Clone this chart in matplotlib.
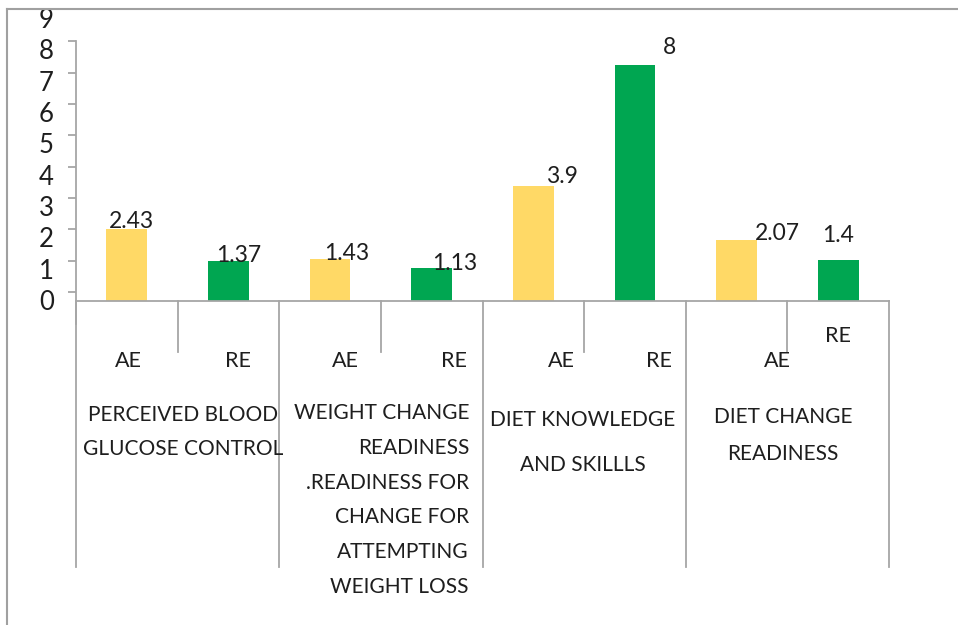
import numpy as np
import matplotlib
matplotlib.use("Agg")
from matplotlib import pyplot as plt
from matplotlib.lines import Line2D

plt.rcParams['font.family'] = ['Lato', 'DejaVu Sans']

# data
groups = [["PERCEIVED BLOOD", "GLUCOSE CONTROL"],
          ["WEIGHT CHANGE", "READINESS", ".READINESS FOR", "CHANGE FOR",
           "ATTEMPTING", "WEIGHT LOSS"],
          ["DIET KNOWLEDGE", "AND SKILLLS"],
          ["DIET CHANGE", "READINESS"]]
series = ["AE", "RE"]
ae_values = [2.43, 1.43, 3.9, 2.07]
re_values = [1.37, 1.13, 8, 1.4]
y_labels = [0, 1, 2, 3, 4, 5, 6, 7, 8, 9]

W, H = 958, 625
YELLOW = '#FFD966'
GREEN = '#00A651'
GREY = '#A6A6A6'
TXT = '#1E1E1E'
FS = 15

def fx(x):
    return x / W

def fy(y):
    return 1 - y / H

fig = plt.figure(figsize=(W / 100, H / 100), dpi=100)
fig.patch.set_facecolor('white')

# plot area: baseline at y=301 px, 29.55 px per unit
base, ppu = 301, 29.55
left, right = 76, 889
ax = fig.add_axes([fx(left), fy(base), fx(right) - fx(left), 9 * ppu / H])
ax.set_xlim(-0.5, 7.5)
ax.set_ylim(0, 9)
ax.patch.set_alpha(0)
for s in ['top', 'right', 'left']:
    ax.spines[s].set_visible(False)
ax.spines['bottom'].set_color(GREY)
ax.spines['bottom'].set_linewidth(1.3)
ax.set_xticks([])
ax.set_yticks([])

# interleave AE / RE
vals, cols, names = [], [], []
for a, r in zip(ae_values, re_values):
    vals += [a, r]
    cols += [YELLOW, GREEN]
    names += series
xpos = np.arange(len(vals))
bars = ax.bar(xpos, vals, width=0.4, color=cols, zorder=2)

slot = (right - left) / 8.0  # px per category slot

# data labels (pixel nudges to sit like the original)
lab_dx = [5, 10, 17, 23, 29, 35, 41, 0]
lab_dy = [1, -1, -1, -2, 3, 11, 0, 18]
for b, v, dx, dy in zip(bars, vals, lab_dx, lab_dy):
    txt = ('%g' % v)
    ax.annotate(txt, (b.get_x() + b.get_width() / 2, v),
                xytext=(dx * 0.72, dy * 0.72), textcoords='offset points',
                ha='center', va='baseline', fontsize=FS + 1.5, color=TXT,
                annotation_clip=False)

# category axis separators
tr = ax.get_xaxis_transform()
depth_outer = (567 - base) / (9 * ppu)
depth_inner = (352 - base) / (9 * ppu)
for i in range(len(vals) + 1):
    d = depth_outer if i % 2 == 0 else depth_inner
    ax.plot([i - 0.5, i - 0.5], [0, -d], transform=tr, color=GREY,
            lw=1.3, clip_on=False, zorder=1)

# AE / RE labels
sub_dx = [2, 10, 15, 22, 28, 24, 41, 0]
sub_y = [361, 361, 361, 361, 361, 361, 361, 336]
for i, (n, dx, yy) in enumerate(zip(names, sub_dx, sub_y)):
    ax.text(i + dx / slot, -(yy - base) / (9 * ppu), n, transform=tr,
            ha='center', va='center', fontsize=FS + 0.5, color=TXT)

# group labels
grp_x = [183.5, 469, 583, 783]
grp_ha = ['center', 'right', 'center', 'center']
grp_y0 = [415, 413, 420, 417]
grp_step = [34, 34.8, 45, 37]
for lines, gx, ha, y0, st in zip(groups, grp_x, grp_ha, grp_y0, grp_step):
    for k, line in enumerate(lines):
        fig.text(fx(gx), fy(y0 + k * st), line, ha=ha, va='center',
                 fontsize=FS, color=TXT)

# value axis, drawn on its own: labels at 0 -> y=300 px, 31.35 px per unit
yppu = 31.35
yax = fig.add_axes([fx(left), fy(300), 0.001, 9 * yppu / H])
yax.patch.set_alpha(0)
for s in ['top', 'right', 'bottom']:
    yax.spines[s].set_visible(False)
yax.spines['left'].set_color(GREY)
yax.spines['left'].set_linewidth(1.3)
yax.set_xticks([])
yax.set_yticks(y_labels)
yax.set_yticklabels([str(v) for v in y_labels], fontsize=18.5, color=TXT)
yax.tick_params(axis='y', which='major', length=0, pad=16)
yax.set_yticks(np.arange(-1, 9) + 0.25, minor=True)
yax.tick_params(axis='y', which='minor', length=5.8, width=1.3,
                color=GREY, direction='out')
yax.set_ylim(0, 9)
yax.spines['left'].set_bounds(-0.75, 8.25)
for t in yax.get_yticklabels():
    t.set_clip_on(False)
for t in yax.yaxis.get_minor_ticks():
    t.tick1line.set_clip_on(False)

# outer frame (top and left only)
fig.add_artist(Line2D([fx(7), 1], [fy(9), fy(9)], color='#A0A0A0', lw=1.5))
fig.add_artist(Line2D([fx(7), fx(7)], [fy(9), 0], color='#A0A0A0', lw=1.5))

fig.savefig('out.png', dpi=100)
